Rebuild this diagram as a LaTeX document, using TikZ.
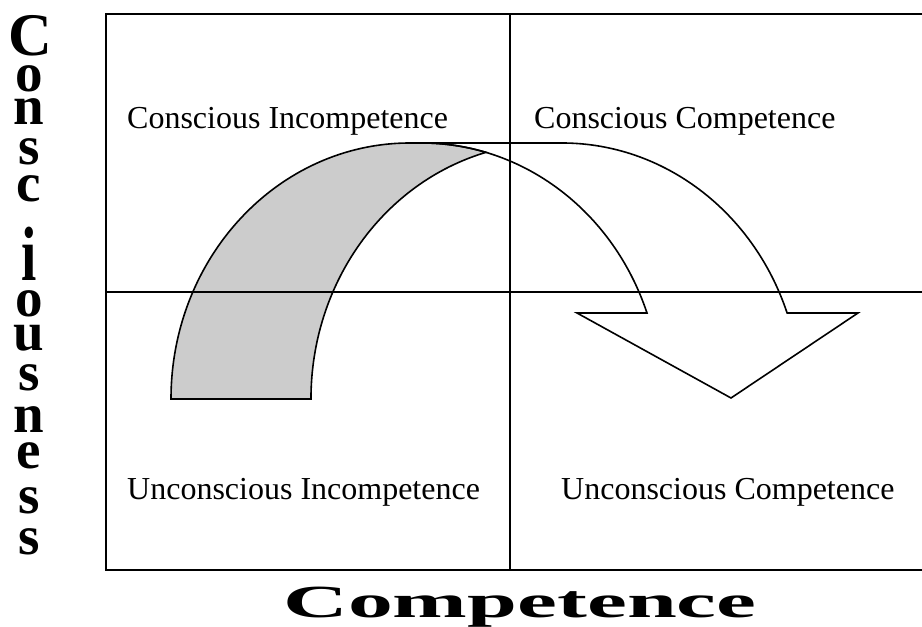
\documentclass[tikz,border=0pt]{standalone}
\usepackage{fontspec}
\setmainfont{Liberation Serif}
\begin{document}
\begin{tikzpicture}[x=1pt,y=1pt,
  gridline/.style={line width=1.4pt},
  outline/.style={line width=1.6pt, line join=miter},
  backside/.style={fill=black!20},
  quad/.style={inner sep=0pt, anchor=base west, font=\fontsize{32}{38}\selectfont},
  axislabel/.style={inner sep=0pt, font=\bfseries\fontsize{46}{50}\selectfont},
  vletter/.style={inner sep=0pt, anchor=base, text height=0pt, text depth=0pt, font=\bfseries\fontsize{55}{55}\selectfont},
  ell/.style={x radius=239, y radius=256}]
\useasboundingbox (0,0) rectangle (922,627);
\clip (0,0) rectangle (922,627);
% box corners
\coordinate (tl) at (106,613);
\coordinate (bl) at (106,57);
\coordinate (tr) at (940,613);
\coordinate (br) at (940,57);
\coordinate (mt) at (510,613);
\coordinate (mb) at (510,57);
\coordinate (ml) at (106,335);
\coordinate (mr) at (940,335);
% back side of the curved arrow (shaded)
\path[backside] (171,228) arc[start angle=180,end angle=90,ell] -- (422,484)
  arc[start angle=90,end angle=74.47,ell]
  arc[start angle=105.53,end angle=180,ell] -- cycle;
\draw[outline] (171,228) arc[start angle=180,end angle=90,ell] -- (422,484)
  arc[start angle=90,end angle=74.47,ell]
  arc[start angle=105.53,end angle=180,ell] -- cycle;
% front side with arrow head
\draw[outline] (422,484) -- (562,484) arc[start angle=90,end angle=19.63,ell]
  -- (858,314) -- (731,229) -- (577,314) -- (647,314)
  arc[start angle=19.63,end angle=90,ell];
% grid
\draw[gridline] (tr) -- (tl) -- (bl) -- (br);
\draw[gridline] (mt) -- (mb);
\draw[gridline] (ml) -- (mr);
% quadrant labels
\node[quad] (ci) at (127,498) {Conscious Incompetence};
\node[quad] (cc) at (534,498) {Conscious Competence};
\node[quad] (ui) at (127,127) {Unconscious Incompetence};
\node[quad] (uc) at (561,127) {Unconscious Competence};
% axis labels
\node[axislabel, anchor=base] (comp) at (520,9) {\scalebox{1.95}[1]{Competence}};
\node[vletter] (v1)  at (30,571) {\scalebox{1.1}[1.1]{C}};
\node[vletter] (v2)  at (29,535) {o};
\node[vletter] (v3)  at (29,502) {n};
\node[vletter] (v4)  at (29,462) {s};
\node[vletter] (v5)  at (29,425) {c};
\node[vletter] (v6)  at (29,346) {\scalebox{1}[1.4]{i}};
\node[vletter] (v7)  at (29,310) {o};
\node[vletter] (v8)  at (29,276) {u};
\node[vletter] (v9)  at (29,236) {s};
\node[vletter] (v10) at (29,194) {n};
\node[vletter] (v11) at (29,158) {e};
\node[vletter] (v12) at (29,113) {s};
\node[vletter] (v13) at (29,72)  {s};
\end{tikzpicture}
\end{document}
